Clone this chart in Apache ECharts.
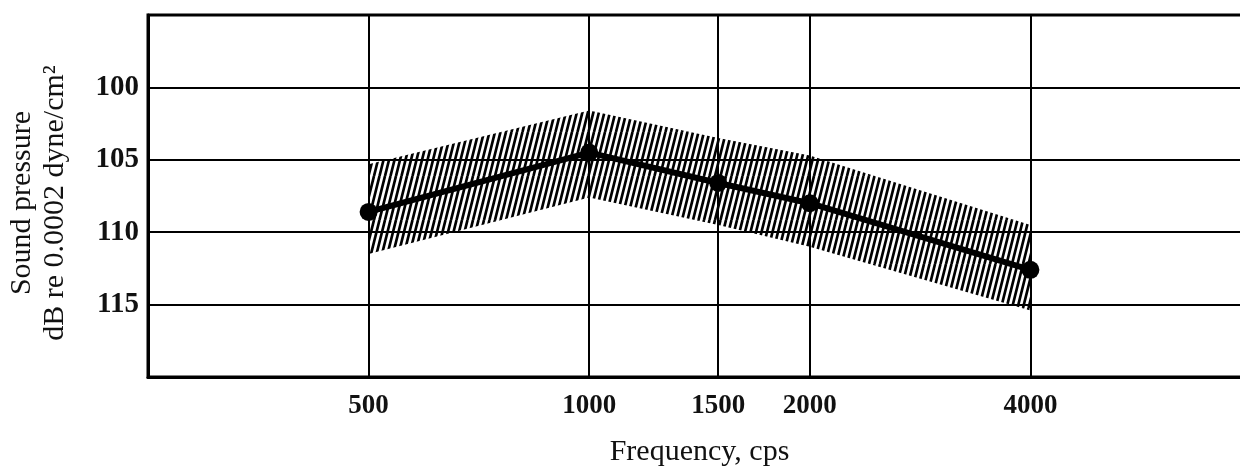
<!DOCTYPE html>
<html lang="en">
<head>
    <meta charset="UTF-8">
    <script src="https://cdn.jsdelivr.net/npm/echarts/dist/echarts.min.js"></script>
    <style>
        body, html { margin: 0; padding: 0; background: #fff; }
        #chart { width: 1240px; height: 469px; }
    </style>
</head>
<body>
    <div id="chart"></div>
    <script>
        // frequencies (cps) and measured sound pressure (dB)
        const freqs = [500, 1000, 1500, 2000, 4000];
        const pressure = [108.6, 104.5, 106.6, 108.0, 112.6];
        // hatched band edges (upper edge = smaller dB because the axis is inverted)
        const bandTop = [105.3, 101.6, 103.5, 104.7, 109.5];
        const bandBottom = [111.5, 107.6, 109.5, 111.0, 115.4];
        const xTicks = [500, 1000, 1500, 2000, 4000];

        // steep diagonal hatch pattern
        const tile = document.createElement('canvas');
        tile.width = 11;
        tile.height = 44;
        const g = tile.getContext('2d');
        g.strokeStyle = '#000';
        g.lineWidth = 2.7;
        for (let k = -3; k <= 2; k++) {
            g.beginPath();
            g.moveTo(k * 5.5, 44);
            g.lineTo(k * 5.5 + 11, 0);
            g.stroke();
        }

        const serif = '"Liberation Serif", "DejaVu Serif", serif';
        const chart = echarts.init(document.getElementById('chart'));
        chart.setOption({
            animation: false,
            grid: {
                left: 148, top: 15, bottom: 92, right: -11,
                outerBoundsMode: 'none',
                containLabel: false,
                show: true, borderColor: '#000', borderWidth: 3
            },
            xAxis: {
                type: 'log',
                logBase: 2,
                min: 250,
                max: 8000,
                name: 'Frequency, cps',
                nameLocation: 'middle',
                nameGap: 60,
                nameTextStyle: { fontFamily: serif, fontSize: 30, color: '#111' },
                axisLine: { show: true, lineStyle: { color: '#000', width: 3 } },
                axisTick: { show: false, customValues: xTicks },
                axisLabel: {
                    customValues: xTicks,
                    formatter: v => String(v),
                    margin: 16,
                    fontFamily: serif, fontSize: 27, fontWeight: 'bold', color: '#111'
                },
                splitLine: { show: true, lineStyle: { color: '#000', width: 2 } }
            },
            yAxis: {
                type: 'value',
                inverse: true,
                min: 95,
                max: 120,
                interval: 5,
                name: 'Sound pressure\ndB re 0.0002 dyne/cm²',
                nameLocation: 'middle',
                nameRotate: 90,
                nameGap: 76,
                nameTextStyle: {
                    fontFamily: serif, fontSize: 30, color: '#111', lineHeight: 33,
                    padding: [0, 14, 0, 0]
                },
                axisLine: { show: true, lineStyle: { color: '#000', width: 3 } },
                axisTick: { show: false },
                axisLabel: {
                    showMinLabel: false,
                    showMaxLabel: false,
                    margin: 9,
                    fontFamily: serif, fontSize: 29, fontWeight: 'bold', color: '#111'
                },
                splitLine: { show: true, lineStyle: { color: '#000', width: 2 } }
            },
            series: [
                {
                    name: 'band',
                    type: 'custom',
                    data: freqs.map((f, i) => [f, bandTop[i], bandBottom[i]]),
                    encode: { x: 0, y: [1, 2] },
                    silent: true,
                    z: 2,
                    renderItem: (params, api) => {
                        if (params.dataIndexInside !== 0) return null;
                        const n = params.dataInsideLength;
                        const top = [], bottom = [];
                        for (let j = 0; j < n; j++) {
                            top.push(api.coord([api.value(0, j), api.value(1, j)]));
                            bottom.push(api.coord([api.value(0, j), api.value(2, j)]));
                        }
                        return {
                            type: 'polygon',
                            shape: { points: top.concat(bottom.reverse()) },
                            style: { fill: { image: tile, repeat: 'repeat' }, stroke: null }
                        };
                    }
                },
                {
                    name: 'Sound pressure',
                    type: 'line',
                    data: freqs.map((f, i) => [f, pressure[i]]),
                    symbol: 'circle',
                    symbolSize: 18,
                    itemStyle: { color: '#000' },
                    lineStyle: { color: '#000', width: 6 },
                    z: 5
                }
            ]
        });
    </script>
</body>
</html>
